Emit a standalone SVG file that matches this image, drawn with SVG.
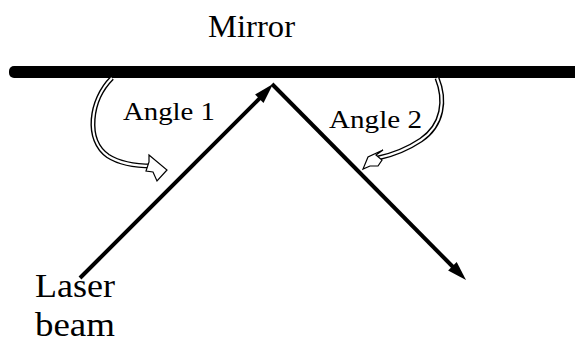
<svg xmlns="http://www.w3.org/2000/svg" width="575" height="343" viewBox="0 0 575 343">
<style>
.beam{stroke:#000;stroke-width:4;fill:none}
.outer{stroke:#000;stroke-width:5;fill:none;stroke-linecap:butt}
.inner{stroke:#fff;stroke-width:2.2;fill:none}
.hhead{fill:#fff;stroke:#000;stroke-width:1.2;stroke-linejoin:miter}
</style>
<rect width="575" height="343" fill="#fff"/>
<g font-family="Liberation Serif, DejaVu Serif, serif" fill="#000">
<g id="mirror">
<rect x="9" y="66" width="570" height="12" rx="5" fill="#000"/>
<text x="208" y="37" font-size="32" textLength="87" lengthAdjust="spacingAndGlyphs">Mirror</text>
</g>
<g id="angle1">
<path class="outer" d="M112,78 C90,100 85,140 108,156 C122,165 138,166 152,166"/>
<path class="inner" d="M112,78 C90,100 85,140 108,156 C122,165 138,166 152,166"/>
<polygon class="hhead" points="149,155 167,170 157,181 153,172 146,171 149,162"/>
<text x="123" y="120" font-size="25" textLength="92" lengthAdjust="spacingAndGlyphs">Angle 1</text>
</g>
<g id="angle2">
<path class="outer" d="M437,78 C446,100 443,125 421,140 C406,150 392,155 378,158"/>
<path class="inner" d="M437,78 C446,100 443,125 421,140 C406,150 392,155 378,158"/>
<polygon class="hhead" points="383,150 376,155 382,160 378,166 370,166 363,169 368,157"/>
<text x="329" y="128" font-size="25" textLength="93" lengthAdjust="spacingAndGlyphs">Angle 2</text>
</g>
<g id="laser">
<text x="35" y="297" font-size="34" textLength="80" lengthAdjust="spacingAndGlyphs">Laser</text>
<text x="35" y="336" font-size="33" textLength="80" lengthAdjust="spacingAndGlyphs">beam</text>
</g>
</g>
<g id="connectors">
<line class="beam" x1="80" y1="278" x2="266" y2="92"/>
<polygon points="273,84 263.5,102.9 255.1,94.5" fill="#000"/>
<line class="beam" x1="272" y1="84" x2="458" y2="272"/>
<polygon points="466,280 448.1,270.4 456.7,262" fill="#000"/>
</g>
</svg>
